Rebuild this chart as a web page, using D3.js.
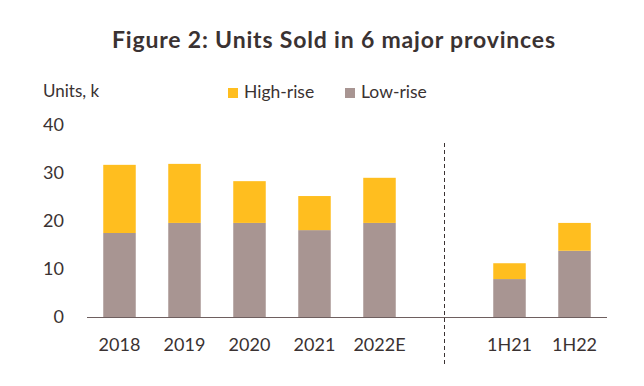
<!DOCTYPE html>
<html>
<head>
<meta charset="utf-8">
<script src="https://cdn.jsdelivr.net/npm/d3@7"></script>
<style>
  body { margin: 0; background: #fff; }
  text { font-family: Lato, "Open Sans", sans-serif; fill: #3a3232; }
</style>
</head>
<body>
<svg id="chart" width="644" height="386"></svg>
<script>
const categories = ["2018", "2019", "2020", "2021", "2022E", "", "1H21", "1H22"];
const lowRise = [17.5, 19.6, 19.6, 18.1, 19.6, null, 7.9, 13.8];
const highRise = [14.2, 12.3, 8.7, 7.1, 9.4, null, 3.3, 5.8];
const yTicks = [0, 10, 20, 30, 40];

const svg = d3.select("#chart");
const colors = { high: "#ffbe1f", low: "#a89592" };

const x = d3.scaleBand().domain(categories).range([87, 607]).paddingInner(0.5).paddingOuter(0.25);
const y = d3.scaleLinear().domain([0, 40]).range([317, 125]);

// title
svg.append("text")
  .attr("x", 333.5).attr("y", 48)
  .attr("text-anchor", "middle")
  .attr("textLength", 443).attr("lengthAdjust", "spacing")
  .style("font-size", "23px").style("font-weight", "bold")
  .text("Figure 2: Units Sold in 6 major provinces");

svg.append("text").attr("x", 43).attr("y", 97).style("font-size", "17px").text("Units, k");

// legend
const legend = [["High-rise", colors.high, 228], ["Low-rise", colors.low, 345]];
legend.forEach(([name, c, lx]) => {
  svg.append("rect").attr("x", lx).attr("y", 88).attr("width", 10).attr("height", 10).attr("fill", c);
  svg.append("text").attr("x", lx + 16).attr("y", 98).style("font-size", "17.5px").text(name);
});

// y tick labels
svg.selectAll(".ytick").data(yTicks).enter().append("text")
  .attr("x", 64).attr("y", d => y(d) + 5.5)
  .attr("text-anchor", "end")
  .style("font-size", "18px")
  .text(d => d);

// stacked bars
const rows = categories.map((c, i) => ({ cat: c, low: lowRise[i], high: highRise[i] })).filter(d => d.low != null);
const g = svg.append("g");
rows.forEach(d => {
  g.append("rect").attr("x", x(d.cat)).attr("width", x.bandwidth())
    .attr("y", y(d.low)).attr("height", y(0) - y(d.low)).attr("fill", colors.low);
  g.append("rect").attr("x", x(d.cat)).attr("width", x.bandwidth())
    .attr("y", y(d.low + d.high)).attr("height", y(d.low) - y(d.low + d.high)).attr("fill", colors.high);
});

// baseline
svg.append("line").attr("x1", 87).attr("x2", 607).attr("y1", y(0) + 0.5).attr("y2", y(0) + 0.5)
  .attr("stroke", "#6e5f5f").attr("stroke-width", 1.2);

// dashed separator
const sepX = x("") + x.bandwidth() / 2;
svg.append("line").attr("x1", sepX).attr("x2", sepX).attr("y1", 143).attr("y2", 366)
  .attr("stroke", "#3a3232").attr("stroke-width", 1).attr("stroke-dasharray", "4,3");

// x labels
svg.selectAll(".xlab").data(categories.filter(c => c)).enter().append("text")
  .attr("x", d => x(d) + x.bandwidth() / 2).attr("y", 351)
  .attr("text-anchor", "middle")
  .style("font-size", "18px")
  .text(d => d);
</script>
</body>
</html>
